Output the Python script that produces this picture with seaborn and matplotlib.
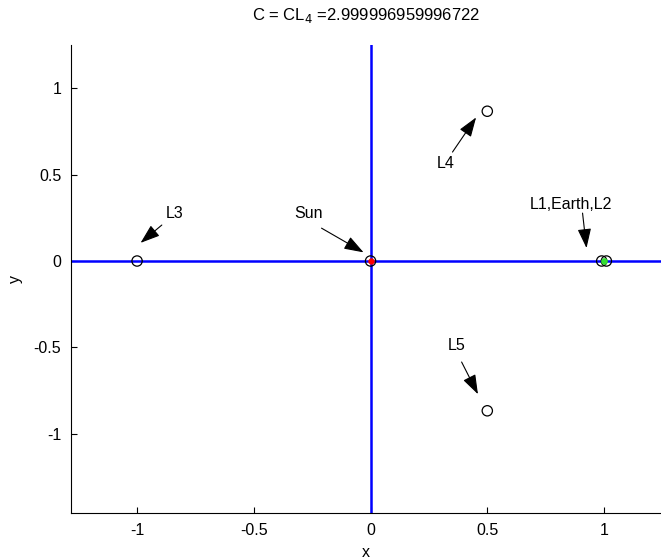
import matplotlib
matplotlib.use("Agg")
import matplotlib.pyplot as plt
import seaborn as sns
import pandas as pd

sns.set_theme(style="white")
plt.rcParams['font.family'] = ['Liberation Sans', 'DejaVu Sans']
plt.rcParams['text.color'] = 'black'
plt.rcParams['axes.labelcolor'] = 'black'
plt.rcParams['xtick.color'] = 'black'
plt.rcParams['ytick.color'] = 'black'

# Data
title_text = r"C = CL$_4$ =2.999996959996722"
zvc_h_x = [-1.3, 1.3]
zvc_h_y = [0.0, 0.0]
zvc_v_x = [0.0, 0.0]
zvc_v_y = [-1.5, 1.3]

lag_names = ["L1", "L2", "L3", "L4", "L5"]
lag_x = [0.99, 1.01, -1.0, 0.5, 0.5]
lag_y = [0.0, 0.0, 0.0, 0.866, -0.866]

sun_xy = (0.0, 0.0)
earth_xy = (1.0, 0.0)

labels = ["L3", "Sun", "L4", "L5", "L1,Earth,L2"]
label_xy = [(-0.84, 0.277), (-0.265, 0.277), (0.32, 0.566), (0.37, -0.486), (0.86, 0.324)]
arrow_tail = [(-0.894, 0.208), (-0.21, 0.19), (0.351, 0.63), (0.39, -0.584), (0.908, 0.277)]
arrow_head = [(-0.985, 0.105), (-0.03, 0.05), (0.452, 0.83), (0.46, -0.77), (0.925, 0.075)]

xticks = [-1, -0.5, 0, 0.5, 1]
yticks = [-1, -0.5, 0, 0.5, 1]
xlim = (-1.283, 1.244)
ylim = (-1.457, 1.249)

FS = 11.5

fig = plt.figure(figsize=(6.61, 5.6), dpi=100)
ax = fig.add_axes([71/661, 47/560, 590/661, 468/560])

sns.lineplot(x=zvc_h_x, y=zvc_h_y, ax=ax, color="#0000ff", lw=1.8,
             estimator=None, sort=False)
sns.lineplot(x=zvc_v_x, y=zvc_v_y, ax=ax, color="#0000ff", lw=1.8,
             estimator=None, sort=False)

df = pd.DataFrame({"x": lag_x, "y": lag_y, "name": lag_names})
sns.scatterplot(data=df, x="x", y="y", ax=ax, marker="o", s=55,
                facecolor="none", edgecolor="black", linewidth=0.9, zorder=5)
sns.scatterplot(x=[sun_xy[0]], y=[sun_xy[1]], ax=ax, marker="o", s=18,
                color="red", edgecolor="red", zorder=6)
sns.scatterplot(x=[sun_xy[0]], y=[sun_xy[1]], ax=ax, marker="o", s=55,
                facecolor="none", edgecolor="black", linewidth=0.9, zorder=7)
sns.scatterplot(x=[earth_xy[0]], y=[earth_xy[1]], ax=ax, marker="o", s=20,
                color="#33dd33", edgecolor="#33dd33", zorder=6)

for lab, lxy, t, h in zip(labels, label_xy, arrow_tail, arrow_head):
    ax.text(lxy[0], lxy[1], lab, ha="center", va="center", fontsize=FS, color="black")
    ax.annotate("", xy=h, xytext=t,
                arrowprops=dict(arrowstyle="-|>,head_length=1.0,head_width=0.35",
                                color="black", lw=0.8, shrinkA=0, shrinkB=0))

ax.set_xlim(*xlim)
ax.set_ylim(*ylim)
ax.set_xticks(xticks)
ax.set_xticklabels(["-1", "-0.5", "0", "0.5", "1"])
ax.set_yticks(yticks)
ax.set_yticklabels(["-1", "-0.5", "0", "0.5", "1"])
ax.tick_params(direction="in", length=4, width=0.8, labelsize=FS, colors="black",
               bottom=True, left=True, pad=7)
for s in ["top", "right"]:
    ax.spines[s].set_visible(False)
for s in ["left", "bottom"]:
    ax.spines[s].set_color("black")
    ax.spines[s].set_linewidth(0.8)
ax.set_xlabel("x", fontsize=FS, labelpad=5)
ax.set_ylabel("y", fontsize=FS, labelpad=8)
ax.set_title(title_text, fontsize=12, pad=18, color="black")
ax.set_facecolor("white")
fig.patch.set_facecolor("white")

fig.savefig("out.png", dpi=100)
